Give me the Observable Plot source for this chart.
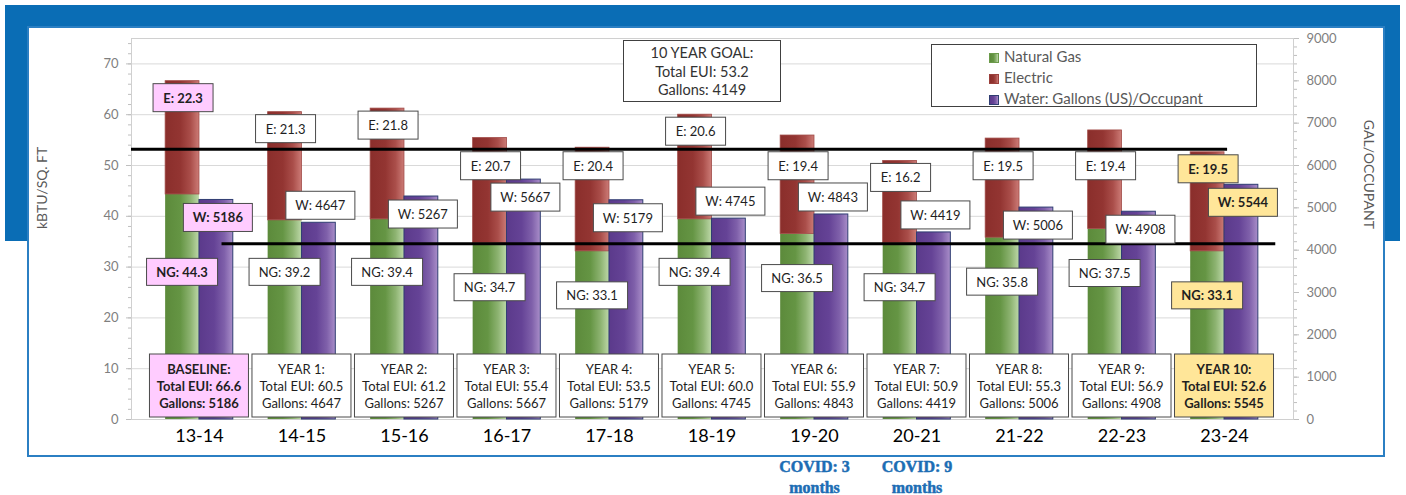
<!DOCTYPE html>
<html>
<head>
<meta charset="utf-8">
<script src="https://cdn.jsdelivr.net/npm/d3@7"></script>
<script src="https://cdn.jsdelivr.net/npm/@observablehq/plot@0.6"></script>
<style>
  html, body { margin: 0; padding: 0; background: #fff; }
  #wrap { position: relative; width: 1406px; height: 495px; overflow: hidden; font-family: Lato, sans-serif; }
  .band { position: absolute; left: 5px; top: 5px; width: 1395px; height: 236px; background: #0a6db5; }
  .panel { position: absolute; left: 27px; top: 26px; width: 1358px; height: 431px; box-sizing: border-box;
           background: #fff; border: 2px solid #2b7fc3; }
  #chart { position: absolute; left: 0; top: 0; }
  .box { position: absolute; box-sizing: border-box; background: #fff; border: 1px solid #404040; color: #404040; }
  .goal { left: 623px; top: 40px; width: 158px; height: 62px; text-align: center; font-size: 14.5px;
          line-height: 18.5px; padding-top: 3px; color: #333; }
  .legend { left: 931px; top: 44px; width: 326px; height: 63px; font-size: 15px; color: #595959; }
  .legend .item { position: absolute; left: 57px; height: 20px; line-height: 20px; white-space: nowrap; }
  .legend .sw { display: inline-block; width: 10px; height: 10px; margin-right: 5px; vertical-align: -1px;
                box-sizing: border-box; }
</style>
</head>
<body>
<div id="wrap">
  <div class="band"></div>
  <div class="panel"></div>
  <div id="chart"></div>
</div>
<script>
// School years and the yearly energy / water figures
const years = ["13-14", "14-15", "15-16", "16-17", "17-18", "18-19", "19-20", "20-21", "21-22", "22-23", "23-24"];
const yearNames = ["BASELINE:", "YEAR 1:", "YEAR 2:", "YEAR 3:", "YEAR 4:", "YEAR 5:", "YEAR 6:", "YEAR 7:", "YEAR 8:", "YEAR 9:", "YEAR 10:"];
const naturalGas = [44.3, 39.2, 39.4, 34.7, 33.1, 39.4, 36.5, 34.7, 35.8, 37.5, 33.1];   // kBTU/sq ft
const electric = [22.3, 21.3, 21.8, 20.7, 20.4, 20.6, 19.4, 16.2, 19.5, 19.4, 19.5];     // kBTU/sq ft
const totalEUI = [66.6, 60.5, 61.2, 55.4, 53.5, 60.0, 55.9, 50.9, 55.3, 56.9, 52.6];
const waterPerOccupant = [5186, 4647, 5267, 5667, 5179, 4745, 4843, 4419, 5006, 4908, 5544]; // gallons
const gallonsTotal = [5186, 4647, 5267, 5667, 5179, 4745, 4843, 4419, 5006, 4908, 5545];
const seriesNames = ["Natural Gas", "Electric", "Water: Gallons (US)/Occupant"];
const goalEUI = 53.2;
const goalGallons = 4149;
const leftTicks = [0, 10, 20, 30, 40, 50, 60, 70];
const rightTicks = [0, 1000, 2000, 3000, 4000, 5000, 6000, 7000, 8000, 9000];
const covidNotes = [
  {year: "19-20", note: "COVID: 3\nmonths"},
  {year: "20-21", note: "COVID: 9\nmonths"}
];

// Axis extents: the gallons axis shares the chart height with the kBTU axis
const leftMax = 75, rightMax = 9000;
const k = rightMax / leftMax;

// Styling
const highlight = {"13-14": "#ffccff", "23-24": "#ffe699"};
const grad = {
  green: ["#5c8a3b", "#659544", "#8db371", "#bdd8a8"],
  red: ["#8a2e2b", "#933532", "#aa4e4a", "#cc7b76"],
  purple: ["#5b3a8b", "#654396", "#7f60aa", "#a98ec9"]
};
const barW = 0.33;                 // bar width in year units
const xDomain = [-0.663, 10.673];  // room either side of the first and last group

const rows = years.map((year, i) => ({
  year, i, name: yearNames[i], ng: naturalGas[i], e: electric[i], eui: totalEUI[i],
  water: waterPerOccupant[i], gallons: gallonsTotal[i]
}));

// Gradient definitions used by the bars
function gradients() {
  const defs = d3.create("svg:defs");
  for (const [id, stops] of Object.entries(grad)) {
    const lg = defs.append("linearGradient").attr("id", "g-" + id).attr("x1", 0).attr("x2", 1).attr("y1", 0).attr("y2", 0);
    [0, 0.45, 0.75, 1].forEach((o, j) => lg.append("stop").attr("offset", o).attr("stop-color", stops[j]));
  }
  return defs.node();
}

function drawBox(g, b) {
  const s = g.append("g");
  s.append("rect").attr("x", b.cx - b.w / 2).attr("y", b.top).attr("width", b.w).attr("height", b.h)
    .attr("fill", b.fill || "#fff").attr("stroke", "#4a4a4a").attr("stroke-width", 1);
  const lines = b.lines;
  lines.forEach((t, j) => {
    s.append("text").attr("x", b.cx).attr("y", b.top + b.h / 2 + (j - (lines.length - 1) / 2) * b.lh)
      .attr("text-anchor", "middle").attr("dominant-baseline", "central")
      .attr("font-size", b.fs).attr("font-weight", b.fill ? "bold" : "normal")
      .attr("fill", "#1f1f1f").text(t);
  });
}

// Value labels for each segment, kept clear of the goal lines
function valueLabels(index, scales) {
  const {x, y} = scales;
  const g = d3.create("svg:g").attr("font-family", "Lato, sans-serif");
  const lineE = y(goalEUI), lineW = y(goalGallons / k);
  for (const d of rows) {
    const fill = highlight[d.year];
    // Electric
    const eTop = y(d.ng + d.e);
    let top = eTop + 3;
    if (top < lineE + 2 && top + 28 > lineE - 2) top = lineE + 3;
    drawBox(g, {cx: x(d.i - barW / 2) + 1, top, w: 60, h: 28, lines: [`E: ${d.e.toFixed(1)}`], fill, fs: 13, lh: 0});
    // Water
    const wTop = y(d.water / k);
    let wt = wTop + 4;
    if (wt + 28 > lineW + 2) wt = wTop - 3 - 28;
    drawBox(g, {cx: x(d.i + barW / 2) + 2, top: wt, w: 69, h: 28, lines: [`W: ${d.water}`], fill, fs: 13, lh: 0});
    // Natural gas
    const nTop = Math.max(y(d.ng) + 31, lineW + 15);
    drawBox(g, {cx: x(d.i - barW / 2), top: nTop, w: 71, h: 27, lines: [`NG: ${d.ng.toFixed(1)}`], fill, fs: 13, lh: 0});
  }
  return g.node();
}

// Yearly summary boxes along the base of the chart
function yearBoxes(index, scales) {
  const {x, y} = scales;
  const g = d3.create("svg:g").attr("font-family", "Lato, sans-serif");
  for (const d of rows) {
    const bottom = y(0) - 2;
    drawBox(g, {cx: x(d.i), top: bottom - 63, w: 99, h: 63, fill: highlight[d.year], fs: 13, lh: 17,
      lines: [d.name, `Total EUI: ${d.eui.toFixed(1)}`, `Gallons: ${d.gallons}`]});
  }
  return g.node();
}

const minorLeft = d3.range(0, leftMax + 0.01, 2);
const minorRight = d3.range(0, rightMax + 1, 200).map(v => v / k);
const blank = () => "";

const chart = Plot.plot({
  width: 1406,
  height: 495,
  marginLeft: 131,
  marginRight: 113,
  marginTop: 38,
  marginBottom: 76,
  x: {domain: xDomain, axis: null, label: null},
  y: {domain: [0, leftMax], axis: null, label: null},
  style: {fontFamily: "Lato, sans-serif", background: "transparent", overflow: "visible"},
  marks: [
    gradients,
    Plot.gridY(leftTicks.slice(1), {stroke: "#d9d9d9", strokeOpacity: 1}),
    Plot.frame({stroke: "#d0d0d0"}),
    // left axis (kBTU/sq ft)
    Plot.axisY(minorLeft, {anchor: "left", tickSize: 3, stroke: "#bfbfbf", tickFormat: blank, label: null}),
    Plot.axisY(leftTicks, {anchor: "left", tickSize: 5, stroke: "#bfbfbf", tickFormat: blank, label: null}),
    Plot.axisY(leftTicks, {anchor: "left", tickSize: 0, tickPadding: 13, fontSize: 13, fill: "#7f7f7f", label: null}),
    // right axis (gallons per occupant)
    Plot.axisY(minorRight, {anchor: "right", tickSize: 3, stroke: "#bfbfbf", tickFormat: blank, label: null}),
    Plot.axisY(rightTicks.map(v => v / k), {anchor: "right", tickSize: 5, stroke: "#bfbfbf", tickFormat: blank, label: null}),
    Plot.axisY(rightTicks.map(v => v / k), {anchor: "right", tickSize: 0, tickPadding: 13, fontSize: 13, fill: "#7f7f7f",
      label: null, tickFormat: v => String(Math.round(v * k))}),
    Plot.text(["kBTU/SQ. FT"], {frameAnchor: "left", dx: -89, rotate: -90, fontSize: 14, fill: "#595959"}),
    Plot.text(["GAL/OCCUPANT"], {frameAnchor: "right", dx: 75, rotate: 90, fontSize: 14, fill: "#595959"}),
    // category axis
    Plot.axisX(d3.range(years.length), {tickSize: 0, tickPadding: 10, fontSize: 18, fill: "#000", label: null,
      tickFormat: i => years[i]}),
    // bars: natural gas + electric stacked, water beside them
    Plot.rect(rows, {x1: d => d.i - barW, x2: d => d.i, y1: 0, y2: "ng", fill: "url(#g-green)"}),
    Plot.rect(rows, {x1: d => d.i - barW, x2: d => d.i, y1: "ng", y2: d => d.ng + d.e, fill: "url(#g-red)",
      stroke: "#a04a46", strokeWidth: 0.8}),
    Plot.rect(rows, {x1: d => d.i, x2: d => d.i + barW, y1: 0, y2: d => d.water / k, fill: "url(#g-purple)",
      stroke: "#2f3d72", strokeWidth: 1}),
    // ten-year goal lines
    Plot.ruleY([goalEUI], {x1: () => xDomain[0], x2: () => 10.03, stroke: "#000", strokeWidth: 3}),
    Plot.ruleY([goalGallons / k], {x1: () => 0.22, x2: () => 10.5, stroke: "#000", strokeWidth: 3}),
    valueLabels,
    yearBoxes,
    Plot.text(covidNotes, {x: d => years.indexOf(d.year), frameAnchor: "bottom", dy: 37, lineAnchor: "top",
      text: "note", fontSize: 16, fontWeight: "bold", fontFamily: "'Liberation Serif', serif", fill: "#1c6db4",
      stroke: "#1c6db4", strokeWidth: 0.5, lineHeight: 1.35})
  ]
});
document.getElementById("chart").appendChild(chart);

// Goal note
const goal = document.createElement("div");
goal.className = "box goal";
goal.innerHTML = `10 YEAR GOAL:<br>Total EUI: ${goalEUI.toFixed(1)}<br>Gallons: ${goalGallons}`;
document.getElementById("wrap").appendChild(goal);

// Legend
const legend = document.createElement("div");
legend.className = "box legend";
const swatch = ["green", "red", "purple"];
const swBorder = ["#6b9a4a", "#9b403c", "#2f3d72"];
seriesNames.forEach((name, j) => {
  const item = document.createElement("div");
  item.className = "item";
  item.style.top = (1 + j * 21) + "px";
  const sw = document.createElement("span");
  sw.className = "sw";
  const c = grad[swatch[j]];
  sw.style.background = `linear-gradient(to right, ${c[0]}, ${c[1]} 45%, ${c[2]} 75%, ${c[3]})`;
  sw.style.border = `1px solid ${swBorder[j]}`;
  item.appendChild(sw);
  item.appendChild(document.createTextNode(name));
  legend.appendChild(item);
});
document.getElementById("wrap").appendChild(legend);
</script>
</body>
</html>
